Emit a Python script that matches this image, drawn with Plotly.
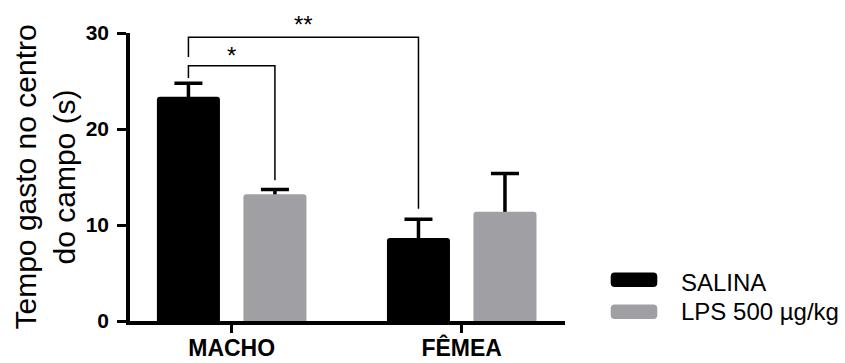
import plotly.graph_objects as go

# ---------------- data ----------------
categories = ["MACHO", "FÊMEA"]
series_names = ["SALINA", "LPS 500 µg/kg"]
salina_mean = [23.36, 8.65]
salina_sem = [1.41, 1.95]
lps_mean = [13.21, 11.37]
lps_sem = [0.50, 4.00]
y_ticks = [0, 10, 20, 30]
y_title = "Tempo gasto no centro<br>do campo (s)"

# significance brackets: label, left bar (group, series), right bar (group, series), bracket height
sig_labels = ["*", "**"]
sig_left = [(0, 0), (0, 0)]
sig_right = [(0, 1), (1, 0)]
sig_level = [26.6, 29.55]

# ---------------- style ----------------
colors = ["#000000", "#A0A0A4"]
FONT = "Liberation Sans, Arial, Helvetica, sans-serif"
W, H = 845, 363
ML, MR, MT, MB = 130, 280, 33, 42
PW, PH = W - ML - MR, H - MT - MB
bar_w = 0.274
bar_shift = [-0.188, 0.188]

means = [salina_mean, lps_mean]
sems = [salina_sem, lps_sem]

fig = go.Figure()

# error bars first (drawn on transparent bars), then the visible bars cover the stems
for s in range(2):
    fig.add_trace(go.Bar(
        x=categories, y=means[s], width=bar_w, offset=bar_shift[s] - bar_w / 2,
        marker=dict(color="rgba(0,0,0,0)", line=dict(width=0)),
        error_y=dict(type="data", symmetric=False, array=sems[s],
                     arrayminus=[0.5] * len(categories),
                     color="#000000", thickness=3.5, width=14),
        showlegend=False, hoverinfo="skip"))
for s in range(2):
    fig.add_trace(go.Bar(
        x=categories, y=means[s], width=bar_w, offset=bar_shift[s] - bar_w / 2,
        marker=dict(color=colors[s], line=dict(width=0), cornerradius=3),
        name=series_names[s], showlegend=False))

# significance brackets
def top_of(g, s):
    return means[s][g] + sems[s][g]

left_gap = [0.55, 0.9]
right_gap = [0.95, 1.1]
star_shift = [9.7, 12.7]
shapes = []
annotations = []
for i, lab in enumerate(sig_labels):
    gl, sl = sig_left[i]
    gr, sr = sig_right[i]
    x0 = gl + bar_shift[sl]
    x1 = gr + bar_shift[sr]
    lvl = sig_level[i]
    lower = [sig_level[j] for j in range(len(sig_labels)) if sig_level[j] < lvl and sig_left[j] == sig_left[i]]
    yl = (max(lower) if lower else top_of(gl, sl)) + left_gap[i]
    yr = top_of(gr, sr) + right_gap[i]
    path = f"M {x0} {yl} L {x0} {lvl} L {x1} {lvl} L {x1} {yr}"
    shapes.append(dict(type="path", xref="x", yref="y", path=path,
                       line=dict(color="#000000", width=1.5)))
    annotations.append(dict(x=(x0 + x1) / 2, y=lvl, xref="x", yref="y", text=lab,
                            showarrow=False, xanchor="center", yanchor="middle",
                            yshift=star_shift[i],
                            font=dict(family=FONT, size=24, color="#000000")))

# y-axis title
def px2paper(px, py):
    return (px - ML) / PW, (H - MB - py) / PH

tx, ty = px2paper(44.5, 177)
annotations.append(dict(x=tx, y=ty, xref="paper", yref="paper", text=y_title,
                        showarrow=False, textangle=-90, xanchor="center", yanchor="middle",
                        font=dict(family=FONT, size=30, color="#000000")))

# custom legend (wide rounded swatches)
def rounded_rect(px0, py0, px1, py1, r):
    x0, y0 = px2paper(px0, py1)
    x1, y1 = px2paper(px1, py0)
    rx, ry = r / PW, r / PH
    return (f"M {x0+rx} {y0} L {x1-rx} {y0} Q {x1} {y0} {x1} {y0+ry} "
            f"L {x1} {y1-ry} Q {x1} {y1} {x1-rx} {y1} L {x0+rx} {y1} "
            f"Q {x0} {y1} {x0} {y1-ry} L {x0} {y0+ry} Q {x0} {y0} {x0+rx} {y0} Z")

leg_rows_y = [279.7, 311.7]
leg_text_y = [282.0, 311.0]
for s in range(2):
    cy = leg_rows_y[s]
    shapes.append(dict(type="path", xref="paper", yref="paper",
                       path=rounded_rect(610.7, cy - 7.3, 657.3, cy + 7.3, 4),
                       fillcolor=colors[s], line=dict(width=0)))
    lx, ly = px2paper(679, leg_text_y[s])
    annotations.append(dict(x=lx, y=ly, xref="paper", yref="paper", text=series_names[s],
                            showarrow=False, xanchor="left", yanchor="middle",
                            font=dict(family=FONT, size=24, color="#000000")))

fig.update_layout(
    width=W, height=H,
    margin=dict(l=ML, r=MR, t=MT, b=MB, pad=0, autoexpand=False),
    paper_bgcolor="white", plot_bgcolor="white",
    barmode="overlay",
    showlegend=False,
    shapes=shapes, annotations=annotations,
    xaxis=dict(type="category", categoryarray=categories, range=[-0.442, 1.449],
               automargin=False,
               showline=True, linecolor="#000000", linewidth=3.5,
               ticks="outside", ticklen=8, tickwidth=3, tickcolor="#000000",
               showgrid=False, zeroline=False, ticklabelstandoff=-4,
               tickfont=dict(family=FONT, size=23, color="#000000", weight="bold")),
    yaxis=dict(range=[0, 30], tickvals=y_ticks, ticktext=[str(v) for v in y_ticks],
               automargin=False,
               showline=True, linecolor="#000000", linewidth=3.5,
               ticks="outside", ticklen=9, tickwidth=3, tickcolor="#000000",
               showgrid=False, zeroline=False, ticklabelstandoff=4,
               tickfont=dict(family=FONT, size=21, color="#000000", weight="bold")),
)

fig.write_html("out.html", config={"displayModeBar": False},
               post_script="document.body.style.margin='0';document.body.style.padding='0';")
